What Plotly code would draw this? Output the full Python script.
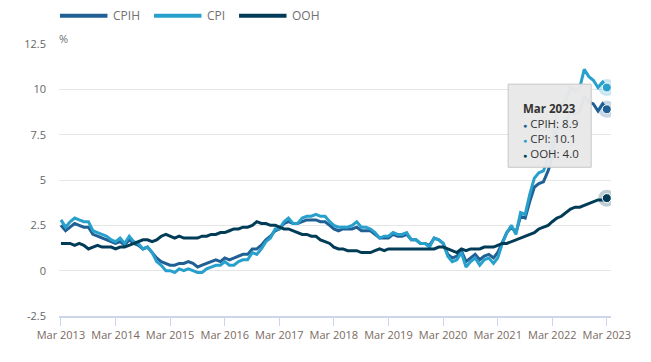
import pandas as pd
import plotly.graph_objects as go

# ---------------- data (12-month rates, %) ----------------
months = pd.date_range("2013-03-01", periods=121, freq="MS")

cpih = [
    2.5, 2.2, 2.4, 2.6, 2.5, 2.4, 2.4, 2.0, 1.9, 1.8,
    1.7, 1.6, 1.5, 1.6, 1.4, 1.7, 1.5, 1.4, 1.2, 1.3, 1.0, 0.7,
    0.5, 0.4, 0.3, 0.3, 0.4, 0.4, 0.5, 0.4, 0.2, 0.3, 0.4, 0.5,
    0.6, 0.5, 0.7, 0.6, 0.7, 0.8, 0.9, 0.9, 1.2, 1.2, 1.4, 1.7,
    1.9, 2.2, 2.3, 2.6, 2.7, 2.6, 2.6, 2.7, 2.8, 2.8, 2.8, 2.7,
    2.7, 2.5, 2.3, 2.2, 2.3, 2.3, 2.3, 2.4, 2.2, 2.2, 2.2, 2.0,
    1.8, 1.8, 1.8, 2.0, 1.9, 1.9, 2.0, 1.7, 1.7, 1.5, 1.5, 1.4,
    1.8, 1.7, 1.5, 0.9, 0.7, 0.8, 1.1, 0.5, 0.7, 0.9, 0.6, 0.8,
    0.9, 0.7, 1.0, 1.6, 2.1, 2.4, 2.1, 3.0, 2.9, 3.8, 4.6, 4.8,
    4.9, 5.5, 6.2, 7.8, 7.9, 8.2, 8.8, 8.6, 8.8, 9.6, 9.3, 9.2,
    8.8, 9.2, 8.9,
]
cpi = [
    2.8, 2.4, 2.7, 2.9, 2.8, 2.7, 2.7, 2.2, 2.1, 2.0,
    1.9, 1.7, 1.6, 1.8, 1.5, 1.9, 1.6, 1.5, 1.2, 1.3, 1.0, 0.5,
    0.3, 0.0, 0.0, -0.1, 0.1, 0.0, 0.1, 0.0, -0.1, -0.1, 0.1, 0.2,
    0.3, 0.3, 0.5, 0.3, 0.3, 0.5, 0.6, 0.6, 1.0, 0.9, 1.2, 1.6,
    1.8, 2.3, 2.3, 2.7, 2.9, 2.6, 2.6, 2.9, 3.0, 3.0, 3.1, 3.0,
    3.0, 2.7, 2.5, 2.4, 2.4, 2.4, 2.5, 2.7, 2.4, 2.4, 2.3, 2.1,
    1.8, 1.9, 1.9, 2.1, 2.0, 2.0, 2.1, 1.7, 1.7, 1.5, 1.5, 1.3,
    1.8, 1.7, 1.5, 0.8, 0.5, 0.6, 1.0, 0.2, 0.5, 0.7, 0.3, 0.6,
    0.7, 0.4, 0.7, 1.5, 2.1, 2.5, 2.0, 3.2, 3.1, 4.2, 5.1, 5.4,
    5.5, 6.2, 7.0, 9.0, 9.1, 9.4, 10.1, 9.9, 10.1, 11.1, 10.7, 10.5,
    10.1, 10.4, 10.1,
]
ooh = [
    1.5, 1.5, 1.5, 1.4, 1.5, 1.4, 1.2, 1.3, 1.4, 1.3,
    1.3, 1.3, 1.2, 1.3, 1.3, 1.4, 1.5, 1.6, 1.7, 1.7, 1.6, 1.7,
    1.9, 2.0, 1.9, 1.8, 1.9, 1.8, 1.8, 1.8, 1.8, 1.9, 1.9, 2.0,
    2.0, 2.1, 2.1, 2.2, 2.3, 2.3, 2.4, 2.4, 2.5, 2.7, 2.6, 2.6,
    2.5, 2.5, 2.4, 2.3, 2.3, 2.2, 2.1, 2.0, 2.0, 1.9, 1.9, 1.7,
    1.6, 1.5, 1.3, 1.2, 1.2, 1.1, 1.1, 1.1, 1.0, 1.0, 1.0, 1.1,
    1.2, 1.1, 1.2, 1.2, 1.2, 1.2, 1.2, 1.2, 1.2, 1.2, 1.2, 1.2,
    1.2, 1.3, 1.3, 1.2, 1.1, 1.0, 1.2, 1.1, 1.2, 1.2, 1.2, 1.3,
    1.3, 1.3, 1.4, 1.5, 1.5, 1.6, 1.7, 1.8, 1.9, 2.0, 2.1, 2.3,
    2.4, 2.5, 2.7, 2.9, 3.0, 3.2, 3.4, 3.5, 3.5, 3.6, 3.7, 3.8,
    3.9, 3.9, 4.0,
]

series_names = ["CPIH", "CPI", "OOH"]
series_values = [cpih, cpi, ooh]
series_colors = ["#206095", "#27a0cc", "#003c57"]
halo_colors = ["rgba(32,96,149,0.25)", "rgba(39,160,204,0.25)", "rgba(0,60,87,0.25)"]

y_ticks = [-2.5, 0, 2.5, 5, 7.5, 10, 12.5]
y_tick_labels = ["-2.5", "0", "2.5", "5", "7.5", "10", "12.5"]
x_ticks = pd.date_range("2013-03-01", "2023-03-01", freq="12MS")
x_tick_labels = [d.strftime("Mar %Y") for d in x_ticks]

# ---------------- layout geometry (page pixels) ----------------
O = 8                      # default page body margin
W, H = 651 - 2 * O, 362 - 2 * O
PL, PR, PT, PB = 59, 617, 44, 322   # plot area in page pixels
ML, MR, MT, MB = PL - O, W - (PR - O), PT - O, H - (PB - O)
PW, PH = PR - PL, PB - PT


def px(x):
    return (x - PL) / PW


def py(y):
    return 1 - (y - PT) / PH


FONT = "Open Sans"

fig = go.Figure()

for name, vals, col in zip(series_names, series_values, series_colors):
    fig.add_trace(go.Scatter(
        x=months, y=vals, mode="lines", name=name,
        line=dict(color=col, width=3), showlegend=False,
        hoverinfo="skip",
    ))

# highlighted last points (hover state)
for name, vals, col, halo in zip(series_names, series_values, series_colors, halo_colors):
    fig.add_trace(go.Scatter(
        x=[months[-1]], y=[vals[-1]], mode="markers", showlegend=False,
        marker=dict(size=17, color=halo, line=dict(width=0)), hoverinfo="skip",
    ))
    fig.add_trace(go.Scatter(
        x=[months[-1]], y=[vals[-1]], mode="markers", showlegend=False,
        marker=dict(size=9, color=col, line=dict(width=1, color="#ffffff")), hoverinfo="skip",
    ))

shapes = []
annotations = []

# custom legend
legend_items = [(60, 108, 112), (155, 203, 207), (241, 289, 293)]
for (x0, x1, tx), name, col in zip(legend_items, series_names, series_colors):
    shapes.append(dict(type="line", xref="paper", yref="paper",
                       x0=px(x0), x1=px(x1), y0=py(15), y1=py(15),
                       line=dict(color=col, width=4)))
    annotations.append(dict(xref="paper", yref="paper", x=px(tx), y=py(15),
                            xanchor="left", yanchor="middle", text=name, showarrow=False,
                            font=dict(family=FONT, size=12, color="#707071")))

# unit label
annotations.append(dict(xref="paper", yref="paper", x=px(57), y=py(38),
                        xanchor="left", yanchor="middle", text="%", showarrow=False,
                        font=dict(family=FONT, size=11, color="#707071")))

# tooltip box
shapes.append(dict(type="rect", xref="paper", yref="paper",
                   x0=px(513), x1=px(597), y0=py(170), y1=py(85),
                   fillcolor="rgba(232,232,232,0.97)", line=dict(color="#c8c8c8", width=1),
                   layer="above"))
last_vals = [v[-1] for v in series_values]
tip_lines = ["<b>" + months[-1].strftime("%b %Y") + "</b>"]
for name, val, col in zip(series_names, last_vals, series_colors):
    tip_lines.append(f"<span style='color:{col};font-size:7px'>●</span> {name}: {val:.1f}")
annotations.append(dict(xref="paper", yref="paper", x=px(526), y=py(100),
                        xanchor="left", yanchor="top", align="left",
                        text="<br>".join(tip_lines), showarrow=False,
                        font=dict(family=FONT, size=11.5, color="#333333")))

fig.update_layout(
    width=W, height=H,
    margin=dict(l=ML, r=MR, t=MT, b=MB, pad=0),
    paper_bgcolor="#ffffff", plot_bgcolor="#ffffff",
    showlegend=False,
    shapes=shapes, annotations=annotations,
    font=dict(family=FONT, color="#666666"),
    xaxis=dict(
        type="date",
        range=["2013-02-16", "2023-03-29"],
        tickvals=x_ticks, ticktext=x_tick_labels,
        showgrid=False, zeroline=False,
        showline=True, linecolor="#ccd6eb", linewidth=2,
        ticks="outside", ticklen=8, tickcolor="#ccd6eb", tickwidth=1,
        tickfont=dict(family=FONT, size=11, color="#7a6a5f"),
    ),
    yaxis=dict(
        range=[-2.5, 12.5],
        tickvals=y_ticks, ticktext=y_tick_labels,
        showgrid=True, gridcolor="#e6e6e6", gridwidth=1,
        zeroline=False, showline=False, ticks="",
        ticklabelstandoff=12,
        tickfont=dict(family=FONT, size=11, color="#666666"),
    ),
)

fig.write_html("out.html")
